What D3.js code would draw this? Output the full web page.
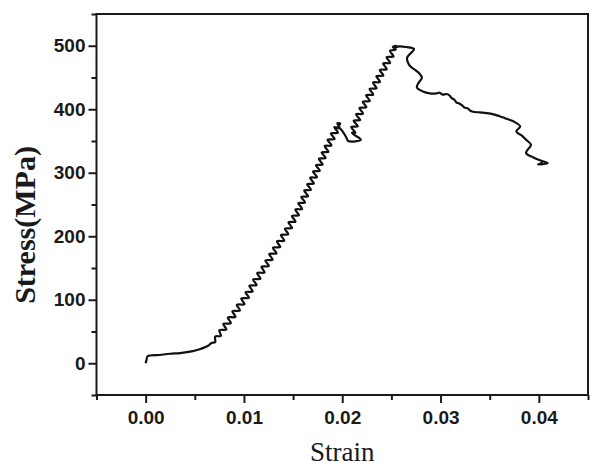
<!DOCTYPE html>
<meta charset="utf-8">
<head>
  <script src="https://cdn.jsdelivr.net/npm/d3@7"></script>
  <style>
    body { margin: 0; background: #fff; }

    /* ejes */
    .axis text {
      font: bold 19px "Liberation Sans", Arial, sans-serif;
      fill: #1a1a1a;
    }
    .axis path { display: none; }
    .axis line {
      stroke: #1a1a1a;
      stroke-width: 2;
    }
    .frame {
      fill: none;
      stroke: #1a1a1a;
      stroke-width: 2;
    }
    .curve {
      fill: none;
      stroke: #111;
      stroke-width: 2.2;
      stroke-linejoin: round;
    }
    .title {
      font-family: "Liberation Serif", "Times New Roman", serif;
      fill: #1a1a1a;
    }
  </style>
</head>
<body>
<script>

// datos (strain, stress en MPa)
var strain = [
  // tramo inicial
  0.0000, 0.0001, 0.0002, 0.0014, 0.0025, 0.0035, 0.0048, 0.0055, 0.0060, 0.0064, 0.0067,
  // primera subida (oscilante)
  0.00707, 0.00708, 0.00765, 0.00750, 0.00821, 0.00790, 0.00867, 0.00836, 0.00913, 0.00882,
  0.00959, 0.00928, 0.01005, 0.00973, 0.01051, 0.01016, 0.01089, 0.01055, 0.01128, 0.01093,
  0.01168, 0.01135, 0.01210, 0.01178, 0.01253, 0.01218, 0.01292, 0.01257, 0.01330, 0.01295,
  0.01369, 0.01336, 0.01410, 0.01376, 0.01451, 0.01417, 0.01489, 0.01453, 0.01524, 0.01488,
  0.01559, 0.01523, 0.01592, 0.01553, 0.01622, 0.01583, 0.01652, 0.01613, 0.01682, 0.01643,
  0.01712, 0.01673, 0.01742, 0.01703, 0.01772, 0.01733, 0.01801, 0.01762, 0.01831, 0.01791,
  0.01860, 0.01821, 0.01890, 0.01850, 0.01922, 0.01885, 0.01956, 0.01919,
  // pico local y caida
  0.01975, 0.01950, 0.01980, 0.01960, 0.02000, 0.02040, 0.02060, 0.02190, 0.02120, 0.02100,
  // segunda subida
  0.02134, 0.02092, 0.02158, 0.02116, 0.02182, 0.02141, 0.02211, 0.02174, 0.02245, 0.02209,
  0.02280, 0.02243, 0.02315, 0.02278, 0.02349, 0.02313, 0.02384, 0.02347, 0.02418, 0.02382,
  0.02453, 0.02416, 0.02487, 0.02451, 0.02522, 0.02485, 0.02545,
  // pico
  0.02515, 0.02550, 0.02530, 0.02580, 0.02650, 0.02730,
  // descenso
  0.02660, 0.02680, 0.02780, 0.02810, 0.02770, 0.02760, 0.02820, 0.02890, 0.02960, 0.02990,
  0.03020, 0.03060, 0.03090, 0.03110, 0.03140, 0.03160, 0.03190, 0.03220, 0.03240, 0.03280,
  0.03300, 0.03330, 0.03400, 0.03470, 0.03540, 0.03600, 0.03640, 0.03670, 0.03740, 0.03810,
  0.03770, 0.03830, 0.03870, 0.03920, 0.03890, 0.03870, 0.03960, 0.04040, 0.04090, 0.03990,
  0.04040
];

var stress = [
  0, 6, 11, 13, 15, 16, 19, 22, 25, 28, 32,
  33, 42, 43, 52, 53, 62, 63, 72, 73, 82,
  83, 92, 93, 102, 103, 112, 113, 122, 123, 132,
  133, 142, 143, 152, 153, 162, 163, 172, 173, 182,
  183, 192, 193, 202, 203, 212, 213, 222, 223, 232,
  233, 242, 243, 252, 253, 262, 263, 272, 273, 282,
  283, 292, 293, 302, 303, 312, 313, 322, 323, 332,
  333, 342, 343, 352, 353, 362, 363, 372,
  370, 378, 377, 373, 366, 356, 350, 352, 360, 363,
  363, 372, 373, 382, 383, 392, 393, 402, 403, 412,
  413, 422, 423, 432, 433, 442, 443, 452, 453, 462,
  463, 472, 473, 482, 483, 492, 494,
  498, 500, 497, 499, 498, 495,
  481, 470, 457, 450, 440, 434, 428, 425, 425, 426,
  423, 424, 422, 418, 415, 411, 409, 406, 403, 401,
  398, 396, 395, 394, 392, 389, 387, 385, 381, 373,
  365, 358, 352, 344, 337, 331, 323, 318, 315, 313,
  316
];

// ticks
var xTicks = [0.00, 0.01, 0.02, 0.03, 0.04];
var xMinor = [-0.005, 0.005, 0.015, 0.025, 0.035, 0.045];
var yTicks = [0, 100, 200, 300, 400, 500];
var yMinor = [-50, 50, 150, 250, 350, 450, 550];

// margenes
var margin = {top: 14, right: 4, bottom: 75, left: 96.5},
    w = 592 - margin.left - margin.right,
    h = 470 - margin.top - margin.bottom;

var xScale = d3.scaleLinear().domain([-0.005, 0.045]).range([0, w]);
var yScale = d3.scaleLinear().domain([-50, 550]).range([h, 0]);

var svg = d3.select("body")
  .append("svg")
  .attr("width", 592)
  .attr("height", 470);

var g = svg.append("g")
  .attr("transform", "translate(" + margin.left + "," + margin.top + ")");

// ejes menores
g.append("g")
  .attr("class", "axis")
  .attr("transform", "translate(0," + h + ")")
  .call(d3.axisBottom(xScale).tickValues(xMinor).tickSize(5).tickFormat(""));

g.append("g")
  .attr("class", "axis")
  .call(d3.axisLeft(yScale).tickValues(yMinor).tickSize(5).tickFormat(""));

// ejes mayores
g.append("g")
  .attr("class", "axis")
  .attr("transform", "translate(0," + h + ")")
  .call(d3.axisBottom(xScale).tickValues(xTicks).tickSize(8).tickPadding(8)
    .tickFormat(d3.format(".2f")));

g.append("g")
  .attr("class", "axis")
  .call(d3.axisLeft(yScale).tickValues(yTicks).tickSize(8).tickPadding(3)
    .tickFormat(d3.format("d")));

// marco
g.append("rect")
  .attr("class", "frame")
  .attr("width", w)
  .attr("height", h);

// curva
var line = d3.line()
  .curve(d3.curveCatmullRom.alpha(0.5))
  .x(function(d) { return xScale(strain[d]); })
  .y(function(d) { return yScale(stress[d]); });

g.append("path")
  .datum(d3.range(strain.length))
  .attr("class", "curve")
  .attr("d", line);

// titulos de ejes
svg.append("text")
  .attr("class", "title")
  .attr("x", margin.left + w / 2)
  .attr("y", 461)
  .attr("text-anchor", "middle")
  .style("font-size", "27px")
  .text("Strain");

svg.append("text")
  .attr("class", "title")
  .attr("transform", "translate(35,225) rotate(-90)")
  .attr("text-anchor", "middle")
  .style("font-size", "30px")
  .style("font-weight", "bold")
  .text("Stress(MPa)");

</script>
</body>
